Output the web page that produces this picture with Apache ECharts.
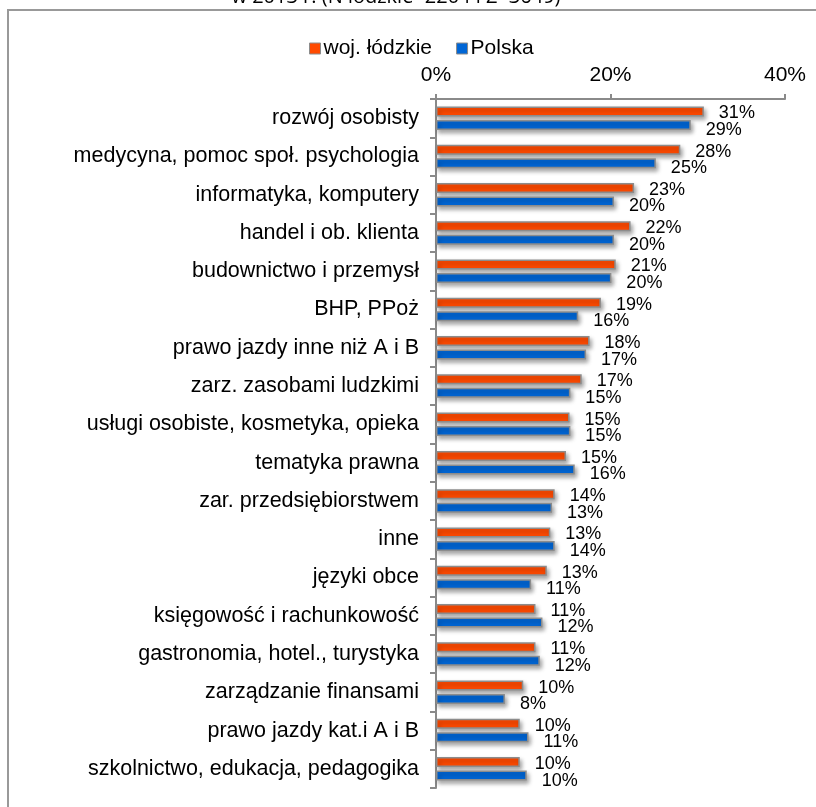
<!DOCTYPE html>
<html>
<head>
<meta charset="utf-8">
<script src="https://cdn.jsdelivr.net/npm/echarts@6/dist/echarts.min.js"></script>
<style>
  html, body { margin: 0; padding: 0; background: #ffffff; }
  #chart { width: 816px; height: 807px; }
</style>
</head>
<body>
<div id="chart"></div>
<script>
// Training topics, share of respondents (%)
const categories = [
  'rozwój osobisty',
  'medycyna, pomoc społ. psychologia',
  'informatyka, komputery',
  'handel i ob. klienta',
  'budownictwo i przemysł',
  'BHP, PPoż',
  'prawo jazdy inne niż A i B',
  'zarz. zasobami ludzkimi',
  'usługi osobiste, kosmetyka, opieka',
  'tematyka prawna',
  'zar. przedsiębiorstwem',
  'inne',
  'języki obce',
  'księgowość i rachunkowość',
  'gastronomia, hotel., turystyka',
  'zarządzanie finansami',
  'prawo jazdy kat.i A i B',
  'szkolnictwo, edukacja, pedagogika'
];
const lodzkie = [30.7, 28.0, 22.7, 22.3, 20.6, 18.9, 17.6, 16.7, 15.3, 14.9, 13.6, 13.1, 12.7, 11.4, 11.4, 10.0, 9.6, 9.6];
const polska  = [29.2, 25.2, 20.4, 20.4, 20.1, 16.3, 17.2, 15.4, 15.4, 15.9, 13.3, 13.6, 10.9, 12.2, 11.9, 7.9, 10.6, 10.4];
const seriesNames = ['woj. łódzkie', 'Polska'];
const xTicks = [0, 20, 40];

const titleText = 'w 2013 r. (N łódzkie=2204 i Z=3649)';

const FONT = '"Liberation Sans", Arial, sans-serif';
const AXIS_GRAY = '#8a8a8a';

function barSeries(name, data, color, dy) {
  return {
    name: name,
    type: 'bar',
    data: data,
    barWidth: 10,
    barGap: '35%',
    itemStyle: {
      color: color,
      borderColor: '#8c8c8c',
      borderWidth: 1.5,
      shadowColor: 'rgba(0,0,0,0.35)',
      shadowBlur: 4,
      shadowOffsetX: 2,
      shadowOffsetY: 3
    },
    label: {
      show: true,
      position: 'right',
      distance: 15,
      offset: [0, dy],
      fontFamily: FONT,
      fontSize: 18,
      color: '#000',
      formatter: p => Math.round(p.value) + '%'
    },
    emphasis: { disabled: true },
    animation: false
  };
}

const chart = echarts.init(document.getElementById('chart'), null, { renderer: 'canvas' });
chart.setOption({
  backgroundColor: '#ffffff',
  animation: false,
  graphic: [
    {
      type: 'rect',
      shape: { x: 8, y: 10, width: 1000, height: 1000 },
      style: { fill: 'none', stroke: '#999999', lineWidth: 2 },
      silent: true,
      z: -1
    },
    {
      type: 'text',
      x: 396,
      y: 7,
      style: {
        text: titleText,
        fontFamily: '"Open Sans", sans-serif',
        fontSize: 20,
        fill: '#000',
        textAlign: 'center',
        textVerticalAlign: 'bottom'
      },
      silent: true
    }
  ],
  legend: {
    data: seriesNames,
    left: 304,
    top: 33,
    itemWidth: 11,
    itemHeight: 11,
    itemGap: 24,
    icon: 'rect',
    itemStyle: { borderColor: '#8c8c8c', borderWidth: 1, shadowBlur: 0, shadowOffsetX: 0, shadowOffsetY: 0 },
    textStyle: { fontFamily: FONT, fontSize: 21, color: '#000', padding: [0, 0, 0, -2] },
    selectedMode: false
  },
  grid: { left: 436, right: 31, top: 99, bottom: 19, containLabel: false },
  xAxis: {
    type: 'value',
    position: 'top',
    min: xTicks[0],
    max: xTicks[xTicks.length - 1],
    interval: xTicks[1] - xTicks[0],
    axisLine: { show: true, lineStyle: { color: AXIS_GRAY, width: 2 } },
    axisTick: { show: true, length: 5, lineStyle: { color: AXIS_GRAY, width: 2 } },
    splitLine: { show: false },
    axisLabel: { fontFamily: FONT, fontSize: 21, color: '#000', margin: 13, formatter: '{value}%' }
  },
  yAxis: {
    type: 'category',
    data: categories,
    inverse: true,
    axisLine: { show: true, lineStyle: { color: AXIS_GRAY, width: 2 } },
    axisTick: { show: true, length: 6, lineStyle: { color: AXIS_GRAY, width: 2 } },
    axisLabel: { fontFamily: FONT, fontSize: 21.5, color: '#000', margin: 17 }
  },
  series: [
    barSeries(seriesNames[0], lodzkie, '#ff4a00', 2),
    barSeries(seriesNames[1], polska, '#0066d6', 5)
  ]
});
</script>
</body>
</html>
